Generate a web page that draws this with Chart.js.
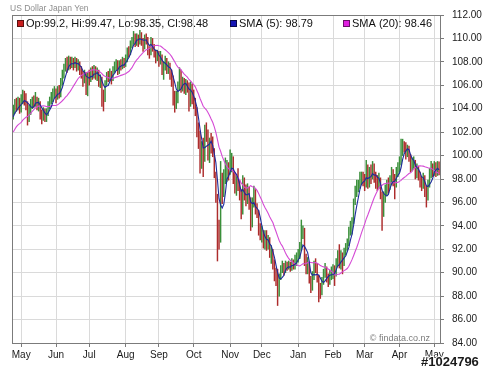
<!DOCTYPE html>
<html>
<head>
<meta charset="utf-8">
<script src="https://cdn.jsdelivr.net/npm/chart.js@4.4.1/dist/chart.umd.min.js"></script>
<style>
  html, body { margin: 0; padding: 0; background: #fff; }
</style>
</head>
<body>
<canvas id="fx" width="486" height="369"></canvas>
<script>
// daily bars, weekdays from 24 Apr 2008 to 6 May 2009; x = bar number
var opens = [
  103.4, 103.8, 104.5, 104.1, 104.6, 104.0, 104.6, 105.3, 105.0, 104.2, 103.4, 104.0, 104.3, 104.6, 104.5, 104.9, 104.3, 104.4, 103.5, 103.3, 103.8, 103.2, 103.6, 104.3, 104.6, 105.0, 105.2,
  105.4, 105.0, 105.6, 105.2, 106.3, 106.9, 107.5, 107.9, 107.5, 108.1, 107.8, 108.0, 107.7, 108.1, 107.6, 107.9, 107.2, 107.0, 106.4, 107.0, 106.3,
  106.8, 106.5, 107.2, 106.9, 107.4, 106.8, 107.1, 106.2, 106.5, 105.3, 104.9, 106.2, 106.8, 106.7, 107.0, 106.5, 107.3, 107.6, 107.9, 107.2, 107.8, 107.6, 108.1,
  107.9, 108.2, 108.9, 108.8, 109.5, 109.8, 110.2, 109.6, 110.1, 109.7, 110.3, 109.8, 109.4, 110.0, 109.9, 108.9, 108.8, 109.8, 109.2, 108.7, 108.4,
  108.6, 108.0, 108.4, 107.3, 107.6, 108.1, 107.3, 107.6, 106.9, 106.6, 105.2, 104.8, 104.9, 105.9, 107.1, 105.8, 106.2, 105.7, 106.0, 105.9, 104.6, 105.8,
  104.7, 104.4, 103.8, 102.0, 101.3, 99.8, 100.4, 99.8, 102.1, 101.9, 100.2, 101.0, 100.9, 100.3, 98.4, 96.4, 93.6, 92.9, 97.6, 97.1, 98.0, 98.4, 98.9,
  98.7, 99.0, 99.6, 98.2, 97.3, 97.9, 97.4, 96.8, 95.4, 98.0, 96.6, 96.4, 97.0, 95.8, 94.4, 95.9, 96.8, 95.4, 95.0, 93.5,
  93.0, 93.3, 92.6, 93.0, 92.4, 92.7, 91.6, 91.8, 90.6, 89.9, 89.3, 88.4, 89.5, 90.3, 90.5, 90.2, 90.6, 90.5, 90.7, 90.4, 90.9, 90.6, 91.0,
  91.4, 91.5, 92.0, 93.3, 93.6, 90.8, 90.3, 90.6, 89.4, 88.9, 89.7, 90.6, 90.5, 89.6, 88.6, 88.4, 89.3, 89.9, 90.3, 89.6, 89.3, 89.8,
  90.1, 90.4, 90.0, 90.9, 91.4, 90.7, 91.5, 90.9, 91.8, 92.2, 92.5, 93.4, 94.0, 94.3, 96.0, 97.0, 97.2, 97.5, 97.9, 98.2,
  97.9, 97.7, 98.8, 97.6, 98.6, 98.3, 99.0, 98.1, 97.8, 97.6, 97.9, 96.6, 95.3, 96.5, 96.9, 97.4, 97.3, 97.8, 98.4, 98.0, 97.5, 98.6,
  99.0, 99.4, 100.3, 101.1, 101.0, 100.1, 100.4, 99.9, 99.0, 99.3, 99.4, 98.4, 98.8, 98.3, 97.9, 97.5, 98.1, 97.0, 96.6, 97.6, 98.4, 99.1, 98.6, 99.2, 98.5, 99.2
];
var highs = [
  104.3, 104.8, 104.9, 105.0, 104.9, 105.2, 105.6, 105.5, 105.3, 104.6, 104.3, 104.8, 105.0, 105.1, 105.4, 105.0, 104.9, 104.6, 103.9, 104.1, 104.0, 104.0, 104.6, 105.0, 105.4, 105.7, 105.9,
  105.7, 105.9, 106.0, 106.6, 107.3, 107.8, 108.3, 108.4, 108.5, 108.4, 108.4, 108.3, 108.4, 108.3, 108.2, 108.0, 107.6, 107.2, 107.3, 107.1, 107.1,
  107.3, 107.5, 107.6, 107.7, 107.6, 107.5, 107.3, 106.9, 106.7, 105.6, 106.4, 107.1, 107.2, 107.4, 107.2, 107.6, 108.0, 108.2, 108.1, 108.1, 108.2, 108.4, 108.3,
  108.6, 109.2, 109.3, 109.8, 110.1, 110.6, 110.4, 110.4, 110.3, 110.7, 110.5, 110.0, 110.3, 110.4, 110.1, 109.3, 110.1, 110.0, 109.5, 109.0, 109.0,
  108.9, 108.9, 108.6, 108.0, 108.5, 108.3, 108.0, 107.9, 107.3, 106.8, 105.5, 105.5, 106.3, 107.5, 107.3, 106.7, 106.6, 106.5, 106.4, 106.2, 106.3, 106.1,
  105.6, 104.9, 104.1, 102.8, 102.1, 101.2, 101.5, 102.6, 102.8, 102.2, 101.5, 101.9, 101.6, 100.6, 98.6, 96.7, 94.5, 99.5, 98.5, 98.8, 99.8, 99.6, 99.4,
  100.5, 100.2, 99.9, 98.6, 98.4, 98.9, 97.9, 97.1, 98.3, 98.1, 97.5, 97.6, 97.3, 96.4, 96.4, 97.4, 97.1, 95.9, 95.3, 94.2,
  94.0, 93.6, 93.6, 93.6, 93.2, 93.0, 92.3, 92.0, 91.1, 90.4, 90.3, 89.9, 90.6, 91.0, 90.8, 91.0, 90.9, 91.0, 90.9, 91.2, 91.1, 91.5, 91.7,
  92.0, 92.6, 94.5, 94.0, 93.8, 91.6, 91.3, 90.9, 89.7, 90.1, 91.0, 91.2, 90.8, 89.8, 89.1, 89.6, 90.3, 90.8, 90.5, 89.9, 90.2, 90.5,
  90.7, 90.6, 91.2, 91.9, 92.4, 91.9, 91.7, 92.1, 92.5, 92.9, 93.9, 94.4, 94.7, 96.3, 97.4, 97.9, 97.9, 98.6, 98.6, 98.6,
  98.4, 99.6, 99.2, 99.0, 99.2, 99.5, 99.3, 98.6, 98.3, 98.5, 98.1, 96.9, 96.9, 97.5, 97.9, 98.1, 98.3, 99.0, 98.8, 98.4, 99.0, 99.4,
  99.9, 101.4, 101.4, 101.2, 101.1, 100.9, 100.8, 100.1, 99.8, 99.9, 99.6, 99.3, 99.1, 98.6, 98.2, 98.5, 98.3, 97.4, 97.9, 98.9, 99.5, 99.3, 99.5, 99.4, 99.5, 99.47
];
var lows = [
  103.1, 103.6, 103.8, 103.9, 103.6, 103.7, 104.4, 104.3, 103.9, 102.6, 102.9, 103.5, 104.0, 104.1, 104.2, 103.9, 103.8, 103.1, 102.7, 103.0, 102.9, 102.9, 103.4, 104.0, 104.4, 104.6, 104.9,
  104.5, 104.8, 104.9, 105.0, 106.0, 106.6, 107.2, 107.1, 107.3, 107.4, 107.5, 107.3, 107.5, 107.2, 107.3, 106.9, 106.6, 105.9, 106.2, 105.2, 105.1,
  106.0, 106.3, 106.5, 106.6, 106.5, 106.4, 105.9, 105.8, 104.2, 103.8, 104.6, 106.0, 106.3, 106.4, 106.1, 106.4, 107.1, 107.3, 106.9, 107.0, 107.3, 107.4, 107.5,
  107.6, 108.0, 108.4, 108.6, 109.2, 109.5, 109.3, 109.4, 109.3, 109.5, 109.4, 108.9, 109.1, 109.5, 108.6, 108.3, 108.6, 108.9, 108.4, 107.9, 108.1,
  107.6, 107.8, 106.9, 106.5, 107.3, 107.0, 107.0, 106.5, 105.9, 104.3, 103.7, 104.0, 104.5, 105.6, 105.4, 105.5, 105.3, 105.2, 105.4, 103.8, 104.2, 104.4,
  104.0, 103.4, 101.6, 100.6, 98.5, 98.9, 98.2, 99.5, 101.2, 99.6, 99.4, 100.2, 99.9, 98.1, 96.0, 91.0, 92.0, 92.6, 95.9, 96.5, 97.6, 97.8, 97.9,
  98.4, 98.6, 97.6, 96.8, 96.6, 97.0, 96.2, 94.6, 95.0, 96.2, 95.7, 95.9, 95.4, 93.6, 93.9, 95.6, 95.0, 94.7, 93.2, 92.8,
  92.6, 92.1, 92.0, 91.9, 92.0, 91.3, 90.8, 90.3, 89.3, 88.9, 87.2, 88.0, 89.4, 90.0, 89.8, 90.0, 90.2, 90.3, 90.1, 90.2, 90.3, 90.3, 90.6,
  90.9, 91.2, 91.9, 92.9, 90.6, 89.9, 89.9, 89.1, 88.3, 88.5, 89.4, 90.0, 89.2, 87.5, 87.8, 88.1, 89.0, 89.6, 89.2, 88.8, 89.0, 89.4,
  89.5, 88.9, 89.7, 90.6, 90.4, 90.3, 89.9, 90.6, 91.5, 91.9, 92.3, 93.2, 93.3, 94.2, 95.8, 96.5, 96.9, 97.2, 97.5, 97.4,
  97.0, 97.3, 97.2, 97.3, 97.6, 98.0, 97.7, 97.2, 97.0, 97.2, 96.3, 93.6, 94.8, 96.0, 96.6, 96.8, 97.1, 97.5, 97.4, 96.3, 97.3, 98.2,
  98.6, 99.2, 100.0, 100.3, 99.7, 99.9, 99.5, 98.6, 98.7, 98.9, 98.0, 98.1, 97.9, 97.3, 97.0, 97.2, 96.5, 95.6, 96.2, 97.3, 98.1, 98.2, 98.3, 98.2, 98.3, 98.35
];
var closes = [
  103.8, 104.5, 104.1, 104.6, 104.0, 104.6, 105.3, 105.0, 104.2, 103.4, 104.0, 104.3, 104.6, 104.5, 104.9, 104.3, 104.4, 103.5, 103.3, 103.8, 103.2, 103.6, 104.3, 104.6, 105.0, 105.2, 105.4,
  105.0, 105.6, 105.2, 106.3, 106.9, 107.5, 107.9, 107.5, 108.1, 107.8, 108.0, 107.7, 108.1, 107.6, 107.9, 107.2, 107.0, 106.4, 107.0, 106.3, 106.8,
  106.5, 107.2, 106.9, 107.4, 106.8, 107.1, 106.2, 106.5, 105.3, 104.9, 106.2, 106.8, 106.7, 107.0, 106.5, 107.3, 107.6, 107.9, 107.2, 107.8, 107.6, 108.1, 107.9,
  108.2, 108.9, 108.8, 109.5, 109.8, 110.2, 109.6, 110.1, 109.7, 110.3, 109.8, 109.4, 110.0, 109.9, 108.9, 108.8, 109.8, 109.2, 108.7, 108.4, 108.6,
  108.0, 108.4, 107.3, 107.6, 108.1, 107.3, 107.6, 106.9, 106.6, 105.2, 104.8, 104.9, 105.9, 107.1, 105.8, 106.2, 105.7, 106.0, 105.9, 104.6, 105.8, 104.7,
  104.4, 103.8, 102.0, 101.3, 99.8, 100.4, 99.8, 102.1, 101.9, 100.2, 101.0, 100.9, 100.3, 98.4, 96.4, 93.6, 92.9, 97.6, 97.1, 98.0, 98.4, 98.9, 98.7,
  99.0, 99.6, 98.2, 97.3, 97.9, 97.4, 96.8, 95.4, 98.0, 96.6, 96.4, 97.0, 95.8, 94.4, 95.9, 96.8, 95.4, 95.0, 93.5, 93.0,
  93.3, 92.6, 93.0, 92.4, 92.7, 91.6, 91.8, 90.6, 89.9, 89.3, 88.4, 89.5, 90.3, 90.5, 90.2, 90.6, 90.5, 90.7, 90.4, 90.9, 90.6, 91.0, 91.4,
  91.5, 92.0, 93.3, 93.6, 90.8, 90.3, 90.6, 89.4, 88.9, 89.7, 90.6, 90.5, 89.6, 88.6, 88.4, 89.3, 89.9, 90.3, 89.6, 89.3, 89.8, 90.1,
  90.4, 90.0, 90.9, 91.4, 90.7, 91.5, 90.9, 91.8, 92.2, 92.5, 93.4, 94.0, 94.3, 96.0, 97.0, 97.2, 97.5, 97.9, 98.2, 97.9,
  97.7, 98.8, 97.6, 98.6, 98.3, 99.0, 98.1, 97.8, 97.6, 97.9, 96.6, 95.3, 96.5, 96.9, 97.4, 97.3, 97.8, 98.4, 98.0, 97.5, 98.6, 99.0,
  99.4, 100.3, 101.1, 101.0, 100.1, 100.4, 99.9, 99.0, 99.3, 99.4, 98.4, 98.8, 98.3, 97.9, 97.5, 98.1, 97.0, 96.6, 97.6, 98.4, 99.1, 98.6, 99.2, 98.5, 99.17, 98.48
];
// closes of the 19 days before the first bar, only used to start the 20 day average
var earlierCloses = [99.8, 99.7, 101.4, 101.9, 102.4, 101.7, 102.3, 102.0, 102.2, 101.6, 101.2, 101.0, 101.5, 102.2, 102.8, 102.8, 103.3, 103.4, 103.2];

var monthStarts = [5, 27, 48, 71, 92, 114, 137, 157, 180, 202, 222, 244, 266];
var monthLabels = ['May', 'Jun', 'Jul', 'Aug', 'Sep', 'Oct', 'Nov', 'Dec', 'Jan', 'Feb', 'Mar', 'Apr', 'May'];
var priceTicks = [84, 86, 88, 90, 92, 94, 96, 98, 100, 102, 104, 106, 108, 110, 112];
var legendLabels = ['Op:99.2, Hi:99.47, Lo:98.35, Cl:98.48', 'SMA (5): 98.79', 'SMA (20): 98.46'];

var upColor = '#3a8f3a';
var downColor = '#ad2c2c';
var font = 'Liberation Sans, Arial, sans-serif';

function movingAverage(n) {
  var all = earlierCloses.concat(closes);
  var off = earlierCloses.length;
  var out = [];
  for (var i = 0; i < closes.length; i++) {
    var s = 0;
    for (var k = 0; k < n; k++) s += all[off + i - k];
    out.push({ x: i, y: s / n });
  }
  return out;
}

var bars = closes.map(function (c, i) { return { x: i, y: [lows[i], highs[i]] }; });
var barColors = closes.map(function (c, i) { return c >= opens[i] ? upColor : downColor; });

var decor = {
  id: 'decor',
  afterDraw: function (chart) {
    var ctx = chart.ctx, a = chart.chartArea;
    ctx.save();
    ctx.strokeStyle = '#7b7b7b';
    ctx.lineWidth = 1;
    ctx.strokeRect(Math.round(a.left) + 0.5, Math.round(a.top) + 0.5, Math.round(a.right - a.left), Math.round(a.bottom - a.top));

    ctx.fillStyle = '#8c8c8c';
    ctx.font = '8.5px ' + font;
    ctx.textBaseline = 'alphabetic';
    ctx.fillText('US Dollar Japan Yen', 10, 11);

    var keys = [
      { x: 17, fill: '#c81e1e', line: '#5a1010' },
      { x: 230, fill: '#1414b4', line: '#08084a' },
      { x: 343, fill: '#e020e0', line: '#6a106a' }
    ];
    ctx.font = '11px ' + font;
    keys.forEach(function (k, i) {
      ctx.fillStyle = k.fill;
      ctx.fillRect(k.x, 20, 7, 7);
      ctx.strokeStyle = k.line;
      ctx.strokeRect(k.x + 0.5, 20.5, 6, 6);
      ctx.fillStyle = '#111';
      ctx.fillText(legendLabels[i], k.x + 9, 27);
    });

    ctx.fillStyle = '#7a7a7a';
    ctx.font = '9px ' + font;
    ctx.textAlign = 'right';
    ctx.fillText('\u00a9 findata.co.nz', 430, 341);

    ctx.textAlign = 'left';
    ctx.font = 'bold 13px ' + font;
    ctx.lineWidth = 2;
    ctx.strokeStyle = '#ffffff';
    ctx.strokeText('#1024796', 421, 366);
    ctx.fillStyle = '#1a1a1a';
    ctx.fillText('#1024796', 421, 366);
    ctx.restore();
  }
};

new Chart(document.getElementById('fx'), {
  data: {
    datasets: [
      {
        type: 'line', label: 'SMA (5)', data: movingAverage(5), order: 1,
        borderColor: '#1d2a9c', borderWidth: 1.1, pointRadius: 0, tension: 0
      },
      {
        type: 'line', label: 'SMA (20)', data: movingAverage(20), order: 2,
        borderColor: '#d54ad5', borderWidth: 1.1, pointRadius: 0, tension: 0
      },
      {
        type: 'bar', label: 'USDJPY', data: bars, order: 3,
        backgroundColor: barColors, borderWidth: 0, barThickness: 0.8, grouped: false
      }
    ]
  },
  options: {
    responsive: false,
    animation: false,
    layout: { padding: { left: 12, top: 15, right: 0, bottom: 0 } },
    plugins: { legend: { display: false }, tooltip: { enabled: false } },
    scales: {
      x: {
        type: 'linear', min: -0.8, max: 269.6, offset: false,
        afterBuildTicks: function (s) { s.ticks = monthStarts.map(function (v) { return { value: v }; }); },
        afterFit: function (s) { s.height = 26; },
        grid: { color: '#dadada', tickColor: '#7b7b7b', tickLength: 4, offset: false },
        border: { display: false },
        ticks: {
          autoSkip: false, maxRotation: 0, padding: 2, color: '#1a1a1a',
          font: { family: font, size: 10 },
          callback: function (v) { return monthLabels[monthStarts.indexOf(v)]; }
        }
      },
      y: {
        position: 'right', min: 84, max: 112,
        afterBuildTicks: function (s) { s.ticks = priceTicks.map(function (v) { return { value: v }; }); },
        afterFit: function (s) { s.width = 46; },
        grid: { color: '#dadada', tickColor: '#7b7b7b', tickLength: 4 },
        border: { display: false },
        ticks: {
          padding: 8, color: '#1a1a1a',
          font: { family: font, size: 10 },
          callback: function (v) { return v.toFixed(2); }
        }
      }
    }
  },
  plugins: [decor]
});
</script>
</body>
</html>
